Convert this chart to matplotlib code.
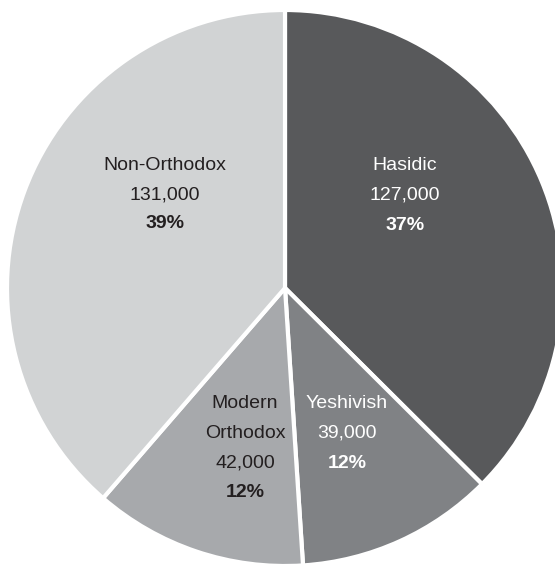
import matplotlib
matplotlib.use("Agg")
import matplotlib.pyplot as plt

categories = ["Hasidic", "Yeshivish", "Modern\nOrthodox", "Non-Orthodox"]
values = [127000, 39000, 42000, 131000]
percents = ["37%", "12%", "12%", "39%"]
colors = ["#58595b", "#808285", "#a7a9ac", "#d1d3d4"]
text_colors = ["white", "white", "#231f20", "#231f20"]

W, H = 555, 566
fig = plt.figure(figsize=(W / 100, H / 100), dpi=100)
ax = fig.add_axes([0, 0, 1, 1])

cx, cy, r = 285, H - 288, 278
ax.pie(values, colors=colors, startangle=90, counterclock=False,
       center=(cx, cy), radius=r,
       wedgeprops=dict(edgecolor="white", linewidth=3))
ax.set_xlim(0, W)
ax.set_ylim(0, H)
ax.set_aspect("equal")
ax.axis("off")

# label anchor (x, top line y in pixel coords from top)
label_pos = [(405, 166), (347, 404), (245, 404), (165, 165)]
line_h = 29.5
fam = ["Liberation Sans", "DejaVu Sans"]
for cat, v, p, tc, (lx, ly) in zip(categories, values, percents, text_colors, label_pos):
    lines = cat.split("\n") + [f"{v:,}"]
    y = ly
    for ln in lines:
        ax.text(lx, H - y, ln, ha="center", va="center", color=tc,
                fontsize=14, family=fam)
        y += line_h
    ax.text(lx, H - y, p, ha="center", va="center", color=tc,
            fontsize=14, fontweight="bold", family=fam)

fig.savefig("out.png", dpi=100)
